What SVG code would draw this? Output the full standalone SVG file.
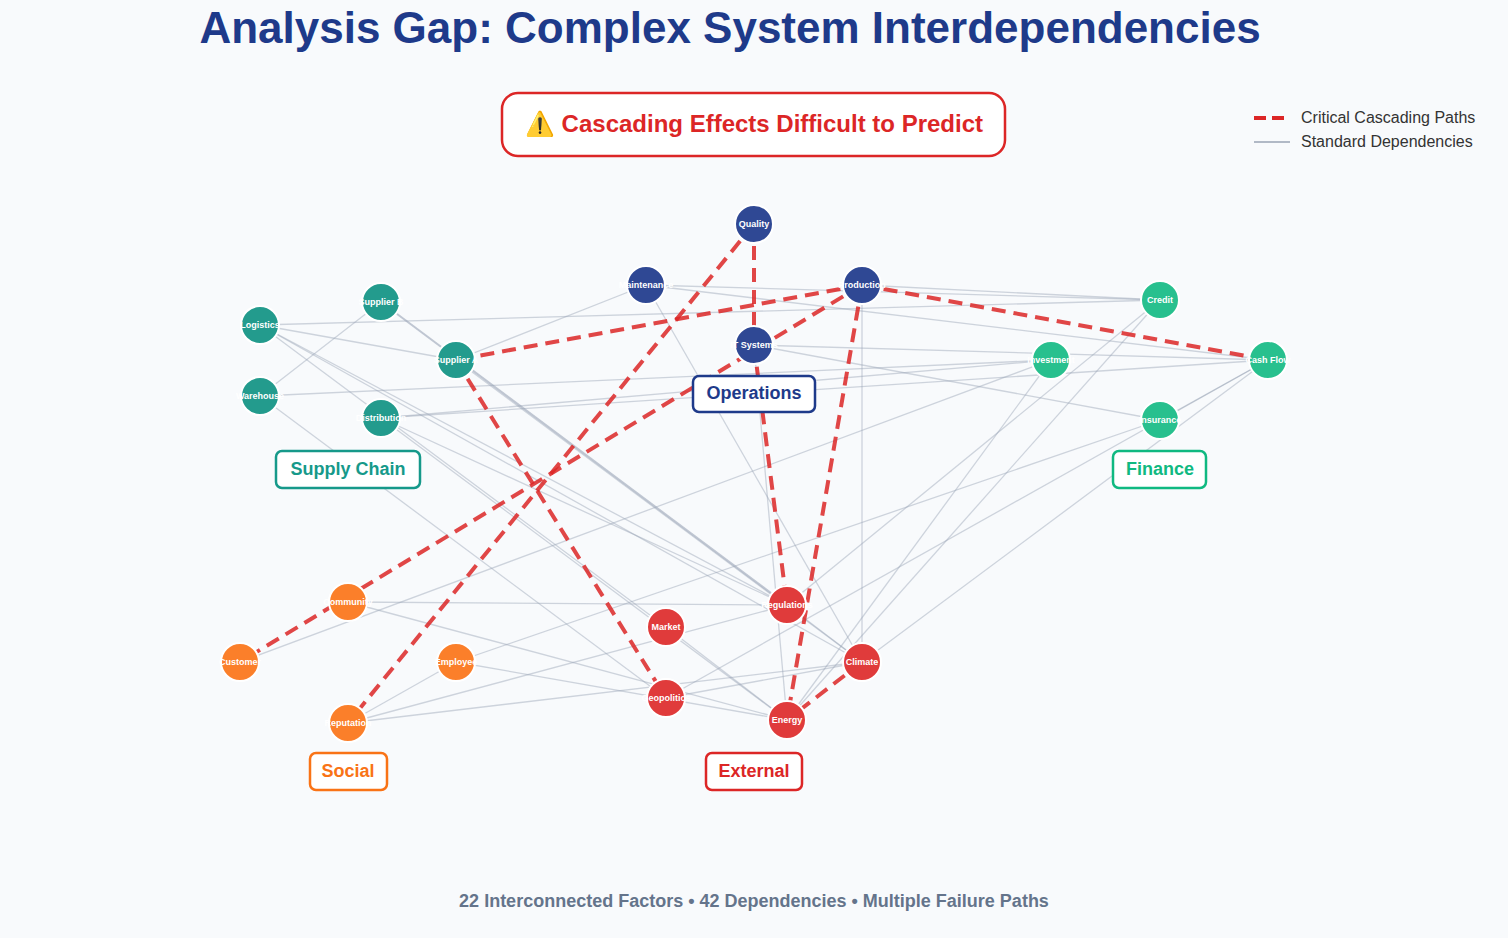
<svg xmlns="http://www.w3.org/2000/svg" width="1508" height="938" viewBox="0 0 1508 938">
<style>
.g{stroke:#9aa3b5;stroke-width:1.3;opacity:.45;fill:none}
.r{stroke:#dc2626;stroke-width:4;stroke-dasharray:14 8;opacity:.85;fill:none}
.n circle{stroke:#fff;stroke-width:2}
.n text{font:bold 9px "Liberation Sans",Arial,sans-serif;fill:#fff;text-anchor:middle}
.sc circle{fill:#239b8d}.op circle{fill:#2f4894}.fi circle{fill:#28c08e}.so circle{fill:#fb7f2a}.ex circle{fill:#e03b3b}
.lb rect{fill:#fff;stroke-width:2.5}
.lb text{font:bold 18px "Liberation Sans",Arial,sans-serif;text-anchor:middle}
</style>
<rect width="1508" height="938" fill="#f8fafc"/>
<text x="730" y="43" font-family="Liberation Sans,Arial,sans-serif" font-size="44" font-weight="bold" fill="#1e3a8a" text-anchor="middle">Analysis Gap: Complex System Interdependencies</text>
<g id="warning"><rect x="502" y="93" width="503" height="63" rx="16" fill="#fff" stroke="#dc2626" stroke-width="2.5"/>
<text x="754" y="132" font-family="Liberation Sans,Arial,sans-serif" font-size="24" font-weight="bold" fill="#dc2626" text-anchor="middle">⚠️ Cascading Effects Difficult to Predict</text></g>
<g id="legend" font-family="Liberation Sans,Arial,sans-serif" font-size="16" fill="#333">
<line x1="1254" y1="118" x2="1290" y2="118" stroke="#dc2626" stroke-width="4" stroke-dasharray="12 6"/>
<text x="1301" y="123">Critical Cascading Paths</text>
<line x1="1254" y1="142" x2="1290" y2="142" stroke="#9aa3b5" stroke-width="1.3"/>
<text x="1301" y="147">Standard Dependencies</text></g>
<g id="connectors">
<line class="g" x1="260" y1="325" x2="1160" y2="300"/>
<line class="g" x1="260" y1="325" x2="456" y2="360"/>
<line class="g" x1="260" y1="325" x2="787" y2="605"/>
<line class="g" x1="260" y1="325" x2="862" y2="662"/>
<line class="g" x1="260" y1="325" x2="666" y2="627"/>
<line class="g" x1="381" y1="302" x2="260" y2="396"/>
<line class="g" x1="381" y1="302" x2="787" y2="605" style="stroke-width:2;opacity:.6"/>
<line class="g" x1="456" y1="360" x2="646" y2="285"/>
<line class="g" x1="456" y1="360" x2="862" y2="662"/>
<line class="g" x1="260" y1="396" x2="1051" y2="360"/>
<line class="g" x1="260" y1="396" x2="666" y2="698"/>
<line class="g" x1="381" y1="418" x2="1051" y2="360"/>
<line class="g" x1="381" y1="418" x2="1268" y2="360"/>
<line class="g" x1="381" y1="418" x2="787" y2="605"/>
<line class="g" x1="381" y1="418" x2="787" y2="720"/>
<line class="g" x1="646" y1="285" x2="1268" y2="360"/>
<line class="g" x1="646" y1="285" x2="1160" y2="300"/>
<line class="g" x1="646" y1="285" x2="862" y2="662"/>
<line class="g" x1="862" y1="285" x2="1160" y2="300"/>
<line class="g" x1="862" y1="285" x2="862" y2="662"/>
<line class="g" x1="754" y1="345" x2="1160" y2="420"/>
<line class="g" x1="754" y1="345" x2="1268" y2="360"/>
<line class="g" x1="754" y1="345" x2="787" y2="720"/>
<line class="g" x1="1160" y1="300" x2="787" y2="720"/>
<line class="g" x1="1160" y1="300" x2="787" y2="605"/>
<line class="g" x1="1051" y1="360" x2="240" y2="662"/>
<line class="g" x1="1051" y1="360" x2="787" y2="720"/>
<line class="g" x1="1160" y1="420" x2="456" y2="662"/>
<line class="g" x1="1268" y1="360" x2="862" y2="662"/>
<line class="g" x1="1268" y1="360" x2="666" y2="698"/>
<line class="g" x1="1160" y1="420" x2="1268" y2="360"/>
<line class="g" x1="348" y1="602" x2="787" y2="605"/>
<line class="g" x1="348" y1="602" x2="787" y2="720"/>
<line class="g" x1="348" y1="723" x2="862" y2="662"/>
<line class="g" x1="348" y1="723" x2="456" y2="662"/>
<line class="g" x1="348" y1="723" x2="787" y2="605"/>
<line class="g" x1="456" y1="662" x2="787" y2="720"/>
<line class="g" x1="666" y1="627" x2="787" y2="720"/>
<line class="g" x1="666" y1="698" x2="862" y2="662"/>
<line class="g" x1="787" y1="605" x2="862" y2="662"/>
<line class="r" x1="754" y1="224" x2="754" y2="345"/>
<line class="r" x1="754" y1="224" x2="348" y2="723"/>
<line class="r" x1="862" y1="285" x2="456" y2="360"/>
<line class="r" x1="862" y1="285" x2="240" y2="662"/>
<line class="r" x1="862" y1="285" x2="1268" y2="360"/>
<line class="r" x1="862" y1="285" x2="787" y2="720"/>
<line class="r" x1="754" y1="345" x2="787" y2="605"/>
<line class="r" x1="456" y1="360" x2="666" y2="698"/>
<line class="r" x1="862" y1="662" x2="787" y2="720"/>
</g>
<g id="n-logistics" class="n sc"><circle cx="260" cy="325" r="19"/><text x="260" y="328">Logistics</text></g>
<g id="n-supplierb" class="n sc"><circle cx="381" cy="302" r="19"/><text x="381" y="305">Supplier B</text></g>
<g id="n-suppliera" class="n sc"><circle cx="456" cy="360" r="19"/><text x="456" y="363">Supplier A</text></g>
<g id="n-warehouse" class="n sc"><circle cx="260" cy="396" r="19"/><text x="260" y="399">Warehouse</text></g>
<g id="n-distribution" class="n sc"><circle cx="381" cy="418" r="19"/><text x="381" y="421">Distribution</text></g>
<g id="n-quality" class="n op"><circle cx="754" cy="224" r="19"/><text x="754" y="227">Quality</text></g>
<g id="n-maintenance" class="n op"><circle cx="646" cy="285" r="19"/><text x="646" y="288">Maintenance</text></g>
<g id="n-production" class="n op"><circle cx="862" cy="285" r="19"/><text x="862" y="288">Production</text></g>
<g id="n-itsystems" class="n op"><circle cx="754" cy="345" r="19"/><text x="754" y="348">IT Systems</text></g>
<g id="n-credit" class="n fi"><circle cx="1160" cy="300" r="19"/><text x="1160" y="303">Credit</text></g>
<g id="n-investment" class="n fi"><circle cx="1051" cy="360" r="19"/><text x="1051" y="363">Investment</text></g>
<g id="n-cashflow" class="n fi"><circle cx="1268" cy="360" r="19"/><text x="1268" y="363">Cash Flow</text></g>
<g id="n-insurance" class="n fi"><circle cx="1160" cy="420" r="19"/><text x="1160" y="423">Insurance</text></g>
<g id="n-community" class="n so"><circle cx="348" cy="602" r="19"/><text x="348" y="605">Community</text></g>
<g id="n-customer" class="n so"><circle cx="240" cy="662" r="19"/><text x="240" y="665">Customer</text></g>
<g id="n-employee" class="n so"><circle cx="456" cy="662" r="19"/><text x="456" y="665">Employee</text></g>
<g id="n-reputation" class="n so"><circle cx="348" cy="723" r="19"/><text x="348" y="726">Reputation</text></g>
<g id="n-regulations" class="n ex"><circle cx="787" cy="605" r="19"/><text x="787" y="608">Regulations</text></g>
<g id="n-market" class="n ex"><circle cx="666" cy="627" r="19"/><text x="666" y="630">Market</text></g>
<g id="n-climate" class="n ex"><circle cx="862" cy="662" r="19"/><text x="862" y="665">Climate</text></g>
<g id="n-geopolitics" class="n ex"><circle cx="666" cy="698" r="19"/><text x="666" y="701">Geopolitics</text></g>
<g id="n-energy" class="n ex"><circle cx="787" cy="720" r="19"/><text x="787" y="723">Energy</text></g>
<g id="l-supply" class="lb"><rect x="276" y="451" width="144" height="37" rx="6" stroke="#16998a"/><text x="348" y="475" fill="#16998a">Supply Chain</text></g>
<g id="l-ops" class="lb"><rect x="693" y="376" width="122" height="36" rx="6" stroke="#1e3a8a"/><text x="754" y="399" fill="#1e3a8a">Operations</text></g>
<g id="l-fin" class="lb"><rect x="1113" y="451" width="93" height="37" rx="6" stroke="#10b981"/><text x="1160" y="475" fill="#10b981">Finance</text></g>
<g id="l-soc" class="lb"><rect x="310" y="753" width="77" height="37" rx="6" stroke="#f97316"/><text x="348" y="777" fill="#f97316">Social</text></g>
<g id="l-ext" class="lb"><rect x="706" y="753" width="96" height="37" rx="6" stroke="#dc2626"/><text x="754" y="777" fill="#dc2626">External</text></g>
<text x="754" y="907" font-family="Liberation Sans,Arial,sans-serif" font-size="18" font-weight="bold" fill="#64748b" text-anchor="middle">22 Interconnected Factors • 42 Dependencies • Multiple Failure Paths</text>
</svg>
